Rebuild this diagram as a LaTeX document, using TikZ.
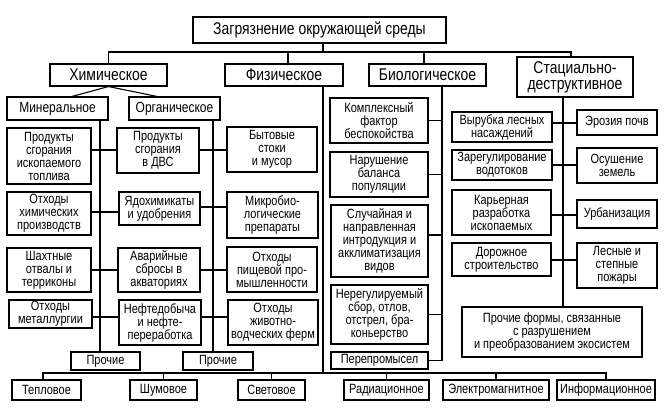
\documentclass[tikz,border=0pt]{standalone}
\usepackage{fontspec}
\setmainfont[FakeStretch=0.82]{Liberation Sans}
\newcommand\bx[7]{\node[box,#6,minimum width={#4-#2},minimum height={#5-#3}] (#1) at ({(#2+#4)/2},{(#3+#5)/2}) {#7};}
\begin{document}
\begin{tikzpicture}[x=1pt,y=-1pt,
  box/.style={draw, line width=1.1pt, inner sep=0pt, align=center, font=\fontsize{13.4}{13}\selectfont},
  big/.style={font=\fontsize{17}{16}\selectfont},
  mid/.style={font=\fontsize{14.6}{14}\selectfont},
  sm/.style={},
  ln/.style={draw, line width=1.1pt}]
\useasboundingbox (0,0) rectangle (667,409);
% level 0 and 1
\bx{title}{193}{17}{446}{43}{big}{Загрязнение окружающей среды}
\bx{chem}{50}{64}{167}{86}{big}{Химическое}
\bx{phys}{225}{64}{343}{86}{big}{Физическое}
\bx{bio}{369}{64}{486}{86}{big}{Биологическое}
\bx{stat}{517}{57}{633}{97}{big}{Стациально-\\деструктивное}
% chemical
\bx{miner}{7}{97}{108}{120}{mid}{Минеральное}
\bx{organ}{129}{97}{220}{120}{mid}{Органическое}
\bx{L1}{7}{128}{91}{184}{sm}{Продукты\\сгорания\\ископаемого\\топлива}
\bx{L2}{7}{192}{91}{235}{sm}{Отходы\\химических\\производств}
\bx{L3}{7}{248}{91}{292}{sm}{Шахтные\\отвалы и\\терриконы}
\bx{L4}{9}{300}{92}{328}{sm}{Отходы\\металлургии}
\bx{M1}{117}{128}{199}{173}{sm}{Продукты\\сгорания\\в ДВС}
\bx{M2}{119}{192}{200}{225}{sm}{Ядохимикаты\\и удобрения}
\bx{M3}{118}{248}{200}{292}{sm}{Аварийные\\сбросы в\\акваториях}
\bx{M4}{119}{300}{201}{345}{sm}{Нефтедобыча\\и нефте-\\переработка}
\bx{R1}{227}{127}{317}{172}{sm}{Бытовые\\стоки\\и мусор}
\bx{R2}{227}{192}{318}{238}{sm}{Микробио-\\логические\\препараты}
\bx{R3}{227}{247}{317}{292}{sm}{Отходы\\пищевой про-\\мышленности}
\bx{R4}{228}{300}{318}{345}{sm}{Отходы\\животно-\\водческих ферм}
\bx{p1}{71}{352}{140}{370}{sm}{Прочие}
\bx{p2}{183}{352}{253}{370}{sm}{Прочие}
% biological
\bx{B1}{330}{98}{428}{143}{sm}{Комплексный\\фактор\\беспокойства}
\bx{B2}{330}{152}{428}{197}{sm}{Нарушение\\баланса\\популяции}
\bx{B3}{331}{205}{428}{277}{sm}{Случайная и\\направленная\\интродукция и\\акклиматизация\\видов}
\bx{B4}{331}{285}{428}{344}{sm}{Нерегулируемый\\сбор, отлов,\\отстрел, бра-\\коньерство}
\bx{B5}{331}{352}{428}{369}{sm}{Перепромысел}
% stational-destructive
\bx{S1}{452}{112}{552}{142}{sm}{Вырубка лесных\\насаждений}
\bx{S2}{452}{150}{552}{180}{sm}{Зарегулирование\\водотоков}
\bx{S3}{452}{190}{551}{235}{sm}{Карьерная\\разработка\\ископаемых}
\bx{S4}{452}{243}{551}{276}{sm}{Дорожное\\строительство}
\bx{T1}{577}{110}{657}{135}{sm}{Эрозия почв}
\bx{T2}{577}{148}{657}{183}{sm}{Осушение\\земель}
\bx{T3}{577}{200}{657}{228}{sm}{Урбанизация}
\bx{T4}{577}{243}{657}{288}{sm}{Лесные и\\степные\\пожары}
\bx{SP}{462}{307}{642}{357}{sm}{Прочие формы, связанные\\с разрушением\\и преобразованием экосистем}
% physical
\bx{Tep}{12}{380}{81}{400}{sm}{Тепловое}
\bx{Shum}{130}{380}{197}{400}{sm}{Шумовое}
\bx{Svet}{238}{380}{305}{400}{sm}{Световое}
\bx{Rad}{344}{380}{429}{400}{sm}{Радиационное}
\bx{Elec}{443}{380}{549}{400}{sm}{Электромагнитное}
\bx{Info}{557}{380}{655}{400}{sm}{Информационное}
% top bus
\coordinate (bus1) at (323,52);
\draw[ln] (title.south -| bus1) -- (bus1);
\draw[ln] (chem.north) -- (chem.north |- bus1) -- ([xshift=-4]stat.north |- bus1) -- ([xshift=-4]stat.north);
\draw[ln] ([xshift=4]phys.north) -- ([xshift=4]phys.north |- bus1);
\draw[ln] ([xshift=-3.5]bio.north) -- ([xshift=-3.5]bio.north |- bus1);
% chemical links
\draw[ln] (chem.south) -- ([xshift=14.5]miner.north);
\draw[ln] (chem.south) -- ([xshift=-17.5]organ.north);
\coordinate (mt) at (100,120);
\coordinate (ot) at (213,120);
\draw[ln] (mt) -- (mt |- p1.north);
\draw[ln] (ot) -- (ot |- p2.north);
\draw[ln] (L1.east |- 0,150) -- (M1.west |- 0,150);
\draw[ln] (M1.east |- 0,150) -- (R1.west |- 0,150);
\draw[ln] (L2.east |- 0,212) -- (M2.west |- 0,212);
\draw[ln] (M2.east |- 0,207) -- (R2.west |- 0,207);
\draw[ln] (L3.east |- 0,270) -- (M3.west |- 0,270);
\draw[ln] (M3.east |- 0,270) -- (R3.west |- 0,270);
\draw[ln] (L4.east |- 0,317) -- (M4.west |- 0,317);
\draw[ln] (M4.east |- 0,317) -- (R4.west |- 0,317);
% biological links
\coordinate (bt) at (442,86);
\draw[ln] (bt) -- (bt |- B5.east) -- (B5.east);
\draw[ln] (B1.east) -- (B1.east -| bt);
\draw[ln] (B2.east) -- (B2.east -| bt);
\draw[ln] (B3.east |- 0,235) -- (bt |- 0,235);
\draw[ln] (B4.east) -- (B4.east -| bt);
% stational links
\coordinate (st) at (563,97);
\draw[ln] (st) -- (st |- SP.north);
\draw[ln] (S1.east |- 0,123) -- (T1.west |- 0,123);
\draw[ln] (S2.east |- 0,165) -- (T2.west |- 0,165);
\draw[ln] (S3.east |- 0,215) -- (T3.west |- 0,215);
\draw[ln] (S4.east |- 0,260) -- (T4.west |- 0,260);
% physical links
\coordinate (pt) at (323,86);
\coordinate (bb) at (323,373);
\draw[ln] (pt) -- (bb);
\draw[ln] ([xshift=-3.5]Tep.north) -- ([xshift=-3.5]Tep.north |- bb) -- (Info.north |- bb) -- (Info.north);
\draw[ln] (Shum.north) -- (Shum.north |- bb);
\draw[ln] (Svet.north) -- (Svet.north |- bb);
\draw[ln] (Rad.north) -- (Rad.north |- bb);
\draw[ln] (Elec.north) -- (Elec.north |- bb);
\end{tikzpicture}
\end{document}
